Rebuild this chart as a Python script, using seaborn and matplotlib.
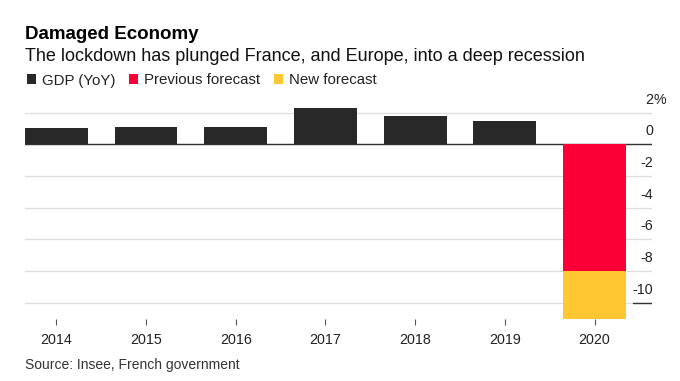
import matplotlib
matplotlib.use('Agg')
import matplotlib.pyplot as plt
import matplotlib.transforms as mtransforms
from matplotlib.patches import Patch
import seaborn as sns
import pandas as pd

# ---- data ----
years = ['2014', '2015', '2016', '2017', '2018', '2019', '2020']
gdp_years = ['2014', '2015', '2016', '2017', '2018', '2019']
gdp_values = [1.0, 1.1, 1.1, 2.3, 1.8, 1.5]
forecast_year = ['2020']
previous_forecast = [-8.0]
new_forecast = [-11.0]
ytick_values = [2, 0, -2, -4, -6, -8, -10]
ytick_labels = ['2%', '0', '-2', '-4', '-6', '-8', '-10']
legend_labels = ['GDP (YoY)', 'Previous forecast', 'New forecast']

title = 'Damaged Economy'
subtitle = 'The lockdown has plunged France, and Europe, into a deep recession'
source = 'Source: Insee, French government'

BLACK = '#282828'
RED = '#FA0037'
YELLOW = '#FFC832'
GRID = '#dddddd'

sns.set_theme(style='white')
plt.rcParams['font.family'] = ['Liberation Sans', 'DejaVu Sans']

W, H = 680, 381
fig = plt.figure(figsize=(W / 100, H / 100), dpi=100)
ax = fig.add_axes([25 / W, 1 - 318.6 / H, 627 / W, (318.6 - 106.3) / H])

df_gdp = pd.DataFrame({'year': gdp_years, 'value': gdp_values})
df_new = pd.DataFrame({'year': forecast_year, 'value': new_forecast})
df_prev = pd.DataFrame({'year': forecast_year, 'value': previous_forecast})

common = dict(x='year', y='value', order=years, width=0.7, saturation=1,
              linewidth=0, ax=ax, zorder=3)
sns.barplot(data=df_gdp, color=BLACK, **common)
sns.barplot(data=df_new, color=YELLOW, **common)
sns.barplot(data=df_prev, color=RED, **common)

ax.set_xlim(-0.35, 6.64)
ax.set_ylim(-11, 2.4)
ax.set_xlabel('')
ax.set_ylabel('')
for s in ax.spines.values():
    s.set_visible(False)

ax.set_yticks(ytick_values)
ax.set_yticklabels([])
ax.tick_params(axis='y', left=False, right=False, length=0)
ax.yaxis.grid(True, color=GRID, linewidth=0.9)
ax.xaxis.grid(False)
ax.set_axisbelow(True)

ax.axhline(0, color='#333333', linewidth=1.0, zorder=2)
ax.axhline(-10, xmin=0.97, xmax=1.0, color='#333333', linewidth=1.0, zorder=2)

ax.tick_params(axis='x', bottom=True, length=4.5, width=0.8, color='#555555',
               pad=6, labelsize=10.3, labelcolor='#222222')

blend = mtransforms.blended_transform_factory(ax.transAxes, ax.transData)
lab_tr = mtransforms.offset_copy(blend, fig=fig, x=1, y=9, units='dots')
for v, lab in zip(ytick_values, ytick_labels):
    if lab.endswith('%'):
        ax.text(1.0, v, lab[:-1], transform=lab_tr, ha='right', va='baseline',
                fontsize=10.3, color='#222222', clip_on=False)
        ax.text(1.0, v, '%', transform=lab_tr, ha='left', va='baseline',
                fontsize=10.3, color='#222222', clip_on=False)
    else:
        ax.text(1.0, v, lab, transform=lab_tr, ha='right', va='baseline',
                fontsize=10.3, color='#222222', clip_on=False)

fig.text(25 / W, 1 - 39 / H, title, fontsize=13.5, fontweight='bold',
         va='baseline', ha='left', color='#000000')
fig.text(25 / W, 1 - 61 / H, subtitle, fontsize=13, va='baseline', ha='left',
         color='#111111')
fig.text(25 / W, 1 - 369 / H, source, fontsize=10, va='baseline', ha='left',
         color='#333333')

handles = [Patch(facecolor=c, edgecolor='none') for c in (BLACK, RED, YELLOW)]
fig.legend(handles=handles, labels=legend_labels, loc='center left',
           bbox_to_anchor=(27 / W, 1 - 80.5 / H), ncol=3, frameon=False,
           fontsize=10.8, handlelength=0.6, handleheight=0.6,
           handletextpad=0.4, columnspacing=0.9, borderpad=0,
           borderaxespad=0, labelcolor='#222222')

fig.savefig('out.png', dpi=100)
